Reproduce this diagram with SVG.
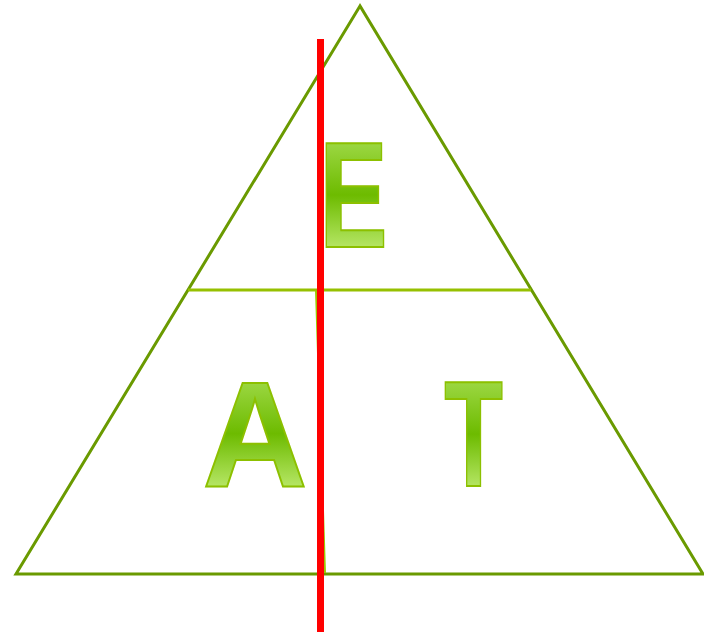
<svg xmlns="http://www.w3.org/2000/svg" width="704" height="632" viewBox="0 0 704 632">
<defs>
<linearGradient id="g" x1="0" y1="0" x2="0" y2="1">
<stop offset="0" stop-color="#b8e86a"/>
<stop offset="0.5" stop-color="#6dbb00"/>
<stop offset="1" stop-color="#e0ffa0"/>
</linearGradient>
<style>
.tri{fill:none;stroke:#6a9a00;stroke-width:3;stroke-linejoin:miter}
.div{stroke:#96c000;stroke-width:3}
.vdiv{stroke:#9cc800;stroke-width:2}
.red{stroke:#ff0000;stroke-width:7}
.let{font-family:"Liberation Sans",Arial,sans-serif;font-weight:bold;font-size:150px;fill:url(#g);stroke:#8cc000;stroke-width:2;text-anchor:middle}
</style>
</defs>
<rect width="704" height="632" fill="#ffffff"/>
<g id="connectors">
<polygon class="tri" points="360,6 16,574 703,574"/>
<line class="div" x1="188" y1="290" x2="531" y2="290"/>
<line class="vdiv" x1="316" y1="291" x2="325" y2="573"/>
</g>
<g id="E"><text class="let" transform="translate(353.5,247) scale(0.68,1)">E</text></g>
<g id="A"><text class="let" transform="translate(255,486) scale(0.97,1)">A</text></g>
<g id="T"><text class="let" transform="translate(473.5,486) scale(0.64,1)">T</text></g>
<g id="redline"><line class="red" x1="320.5" y1="39" x2="320.5" y2="632"/></g>
</svg>
